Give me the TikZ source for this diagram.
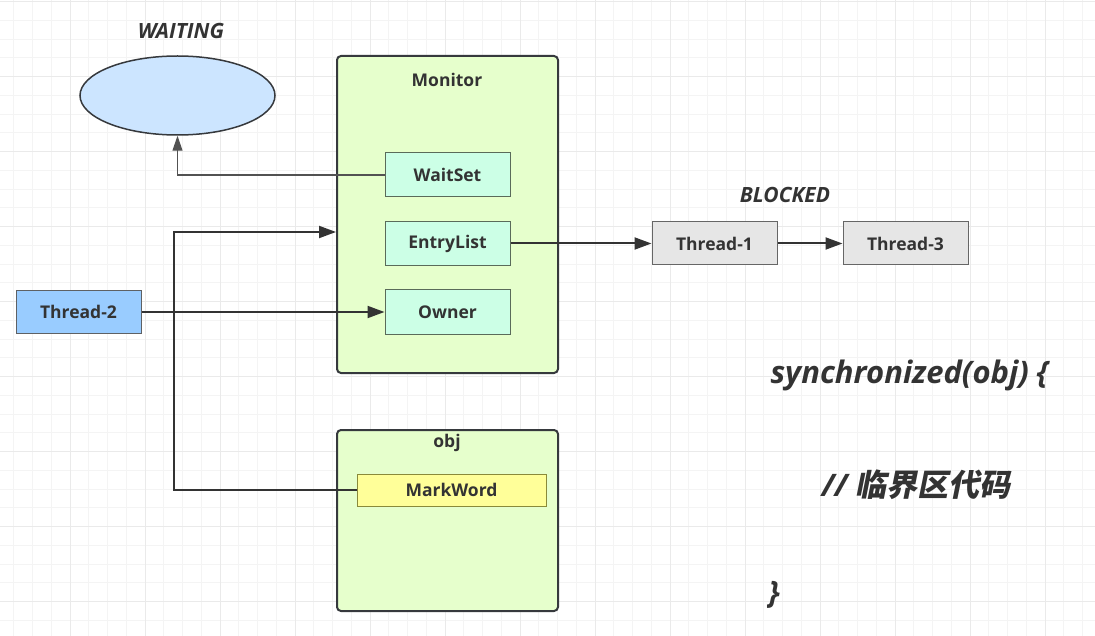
\documentclass[tikz,border=0pt]{standalone}
\usepackage{fontspec}
\setmainfont{Open Sans}
\newfontfamily\cjkfont[FakeSlant=0.2]{Noto Sans CJK SC Bold}
\usetikzlibrary{arrows.meta,shapes.geometric}
\definecolor{ink}{HTML}{333333}
\definecolor{edge}{HTML}{36393D}
\definecolor{monfill}{HTML}{E6FFCC}
\definecolor{setfill}{HTML}{CCFFE6}
\definecolor{setedge}{HTML}{5A6B5A}
\definecolor{grayfill}{HTML}{E6E6E6}
\definecolor{blufill}{HTML}{99CCFF}
\definecolor{waitfill}{HTML}{CCE5FF}
\definecolor{mwfill}{HTML}{FFFF99}
\definecolor{mwedge}{HTML}{8A8A3A}
\definecolor{gminor}{HTML}{F4F4F4}
\definecolor{gmajor}{HTML}{EAEAEA}

\begin{document}
\begin{tikzpicture}[x=1pt,y=-1pt,
grp/.style={draw=edge, line width=2pt, rounded corners=4pt, fill=monfill},
fld/.style={draw=setedge, line width=1pt, fill=setfill, minimum width=125pt, minimum height=44pt, font=\bfseries\fontsize{17.5}{20}\selectfont, text=ink},
thr/.style={draw=gray!80!black, line width=1pt, fill=grayfill, minimum width=125pt, minimum height=43pt, font=\bfseries\fontsize{17.5}{20}\selectfont, text=ink},
ttl/.style={font=\bfseries\fontsize{17.5}{20}\selectfont, text=ink},
st/.style={font=\bfseries\itshape\fontsize{21}{24}\selectfont, text=ink},
code/.style={font=\bfseries\itshape\fontsize{31}{34}\selectfont, text=ink, anchor=base west},
ln/.style={draw=ink, line width=2pt, -{Triangle[length=17pt,width=12pt]}}]
	\useasboundingbox (0,0) rectangle (1095,636);
	\fill[white] (0,0) rectangle (1095,636);
	% background grid
	\foreach \gx in {0,...,58} \draw[gminor, line width=1pt] ({13.75+18.75*\gx},0) -- ++(0,636);
	\foreach \gy in {0,...,34} \draw[gminor, line width=1pt] (0,{1.7+18.75*\gy}) -- ++(1095,0);
	\foreach \gx in {0,...,15} \draw[gmajor, line width=1pt] ({-5+75*\gx},0) -- ++(0,636);
	\foreach \gy in {0,...,8} \draw[gmajor, line width=1pt] (0,{1.7+75*\gy}) -- ++(1095,0);

	% monitor and object
	\node[grp, minimum width=221pt, minimum height=317pt] at (447.5,214.5) (mon) {};
	\node[ttl] at (447,80) (monlbl) {Monitor};
	\node[fld] at (447.5,175) (ws) {WaitSet};
	\node[fld] at (447.5,243.5) (el) {EntryList};
	\node[fld] at (447.5,312) (own) {Owner};
	\node[grp, minimum width=221pt, minimum height=181pt] at (447.5,520.5) (obj) {};
	\node[ttl] at (447,443) (objlbl) {obj};
	\node[draw=mwedge, line width=1pt, fill=mwfill, minimum width=189pt, minimum height=32pt, ttl] at (451.5,490) (mw) {MarkWord};

	% threads
	\node[thr, fill=blufill, draw=edge!80] at (78.5,312) (t2) {Thread-2};
	\node[thr] at (714.5,243.5) (t1) {Thread-1};
	\node[thr] at (905.5,243.5) (t3) {Thread-3};
	\node[ellipse, draw=edge, line width=1.5pt, fill=waitfill, minimum width=195pt, minimum height=79pt] at (177.5,95.5) (wait) {};
	\node[st] at (181,31) (waitlbl) {WAITING};
	\node[st] at (785,195) (blklbl) {BLOCKED};

	% connectors
	\draw[ln, draw=ink!85, line width=1.2pt, -{Triangle[length=15pt,width=10pt]}] (ws.west) -| (wait.south);
	\draw[ln] (t2) -- (own);
	\coordinate (j1) at (174,232);
	\draw[ln] (mw.west) -| (j1) -- (j1 -| mon.west);
	\draw[ln] (el) -- (t1);
	\draw[ln] (t1) -- (t3);

	% code
	\node[code] at (767,383) (c1) {synchronized(obj) \{};
	\node[code] at (818,496) (c2) {// {\cjkfont 临界区代码}};
	\node[code] at (765,603) (c3) {\}};
\end{tikzpicture}
\end{document}
